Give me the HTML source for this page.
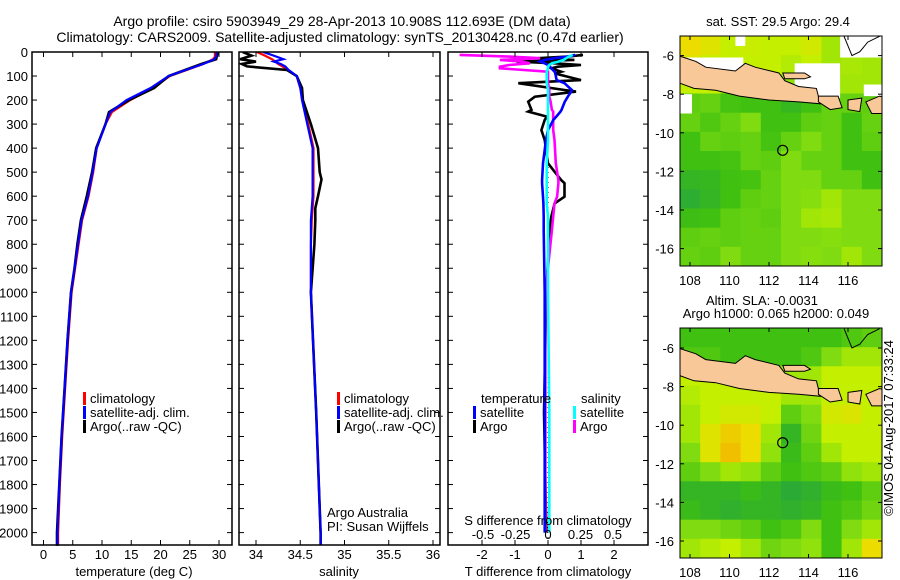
<!DOCTYPE html>
<html><head><meta charset="utf-8">
<style>
html,body{margin:0;padding:0;background:#fff;}
svg{display:block;font-family:"Liberation Sans",sans-serif;}
text{fill:#000;}
</style></head>
<body>
<svg id="fig" width="900" height="580" viewBox="0 0 900 580" xmlns="http://www.w3.org/2000/svg">
<g>
<text x="342" y="26" font-size="14" text-anchor="middle">Argo profile: csiro 5903949_29 28-Apr-2013 10.908S 112.693E (DM data)</text>
<text x="340" y="42" font-size="14" text-anchor="middle">Climatology: CARS2009. Satellite-adjusted climatology: synTS_20130428.nc (0.47d earlier)</text>
</g>
<g id="p1"></g>
<g id="p2"></g>
<g id="p3"></g>
<g id="m1"></g>
<g id="m2"></g>
<text x="0" y="0" font-size="13" transform="translate(893,428) rotate(-90)" text-anchor="middle">©IMOS 04-Aug-2017 07:33:24</text>
</svg>
<script>
// ---- profile data ----
const depthT = [0,20,30,50,75,100,150,200,250,300,400,500,600,700,800,900,1000,1200,1400,1600,1800,2000,2055];
const tempClim = [29.3,29.3,29.0,27.3,24.5,21.6,18.7,14.8,11.7,10.6,9.1,8.5,7.7,6.6,6.0,5.4,4.8,4.2,3.7,3.2,2.8,2.5,2.5];
const tempSat = [29.6,29.5,29.2,27.3,24.3,21.4,18.3,14.2,11.4,10.6,9.1,8.4,7.6,6.5,5.9,5.3,4.7,4.1,3.6,3.1,2.7,2.4,2.4];
const tempArgo = [29.8,29.6,29.5,27.0,24.2,21.4,18.9,14.6,11.2,10.6,9.0,8.3,7.4,6.4,5.8,5.3,4.7,4.1,3.6,3.1,2.7,2.3,2.3];
const depthS = [0,15,30,40,50,60,75,100,150,200,300,400,500,530,600,650,700,800,1000,1500,2000,2055];
const salClim = [34.01,34.1,34.18,34.22,34.25,34.3,34.36,34.46,34.5,34.53,34.59,34.65,34.65,34.65,34.65,34.64,34.63,34.62,34.62,34.68,34.73,34.73];
const salSat = [34.08,34.2,34.31,34.2,34.28,34.33,34.37,34.46,34.5,34.52,34.58,34.64,34.64,34.64,34.64,34.63,34.62,34.62,34.62,34.68,34.73,34.73];
const salArgo = [33.85,33.95,33.82,34.0,33.84,33.9,34.35,34.46,34.52,34.53,34.62,34.7,34.72,34.74,34.7,34.67,34.67,34.66,34.62,34.68,34.73,34.73];
const depthD = [12,19,26,33,40,47,54,61,68,82,89,117,130,158,165,186,207,241,248,269,283,325,366,463,533,546,602,630,685,741,1000,1500,2000];
const tdiffSat = [0.82,0.6,0.2,-0.1,-0.24,-0.1,0.0,0.06,0.1,0.2,0.22,0.26,0.5,0.72,0.7,0.6,0.51,0.41,0.38,0.25,0.16,0.0,-0.06,-0.15,-0.18,-0.18,-0.15,-0.14,-0.13,-0.13,-0.1,-0.1,-0.1];
const tdiffArgo = [1.06,0.6,-0.3,0.8,-0.95,0.2,1.0,0.3,0.1,0.4,0.2,1.0,-0.9,0.5,0.85,-0.4,-0.6,-0.5,-0.6,-0.03,-0.1,-0.2,-0.1,0.0,0.4,0.5,0.5,0.2,0.1,0.05,-0.05,-0.12,-0.05];
const sdiffSat = [0.19,0.16,0.14,0.12,0.08,0.03,0.01,0.0,0.0,-0.01,-0.01,-0.01,-0.01,0.0,0.0,0.0,0.0,0.0,0.0,0.0,0.0,0.0,0.0,-0.01,-0.01,-0.01,-0.01,-0.01,0.0,0.0,0.0,0.01,0.01];
const sdiffArgo = [-0.68,-0.3,-0.06,-0.37,-0.2,-0.14,-0.3,-0.37,-0.37,0.0,0.0,0.0,0.0,0.01,0.01,0.01,0.02,0.03,0.04,0.04,0.04,0.04,0.05,0.06,0.08,0.08,0.07,0.05,0.04,0.03,-0.02,-0.02,-0.02];
const depthTicks = [0,100,200,300,400,500,600,700,800,900,1000,1100,1200,1300,1400,1500,1600,1700,1800,1900,2000];
const tempTicks = [0,5,10,15,20,25,30];
const salTicks = [34,34.5,35,35.5,36];
const tdTicks = [-2,-1,0,1,2];
const sdTicks = ["-0.5","-0.25","0","0.25","0.5"];

// ---- map grids (0 = dark green, 1 = orange) ----
const sstGrid = [
[.85,.8,.7,.72,.7,.7,.75,.6,.6,.62],
[.8,.72,.7,.7,.7,.65,.7,.6,.62,.6],
[.7,.7,.6,.6,.6,.55,.55,.6,.6,.6],
[.4,.42,.32,.3,.3,.22,.3,.42,.42,.4],
[.42,.35,.42,.5,.3,.3,.4,.42,.3,.42],
[.3,.42,.4,.42,.32,.42,.5,.42,.3,.4],
[.3,.3,.32,.42,.4,.5,.42,.42,.3,.3],
[.2,.22,.3,.32,.42,.5,.5,.42,.42,.3],
[.12,.2,.3,.4,.42,.5,.52,.6,.5,.5],
[.28,.3,.4,.42,.4,.5,.6,.62,.5,.5],
[.4,.42,.4,.42,.42,.5,.5,.52,.5,.5],
[.42,.4,.5,.42,.42,.5,.52,.5,.6,.5]];
const slaGrid = [
[.3,.3,.3,.3,.3,.3,.3,.3,.35,.4],
[.35,.35,.3,.3,.3,.3,.35,.5,.6,.6],
[.7,.7,.7,.7,.7,.6,.6,.7,.7,.7],
[.65,.7,.7,.7,.7,.6,.6,.7,.7,.7],
[.6,.7,.75,.75,.7,.4,.5,.75,.78,.7],
[.6,.8,.9,.85,.6,.2,.45,.7,.7,.7],
[.5,.8,.95,.85,.55,.25,.4,.6,.7,.7],
[.4,.5,.6,.55,.4,.3,.35,.4,.55,.6],
[.2,.2,.2,.25,.2,.1,.15,.25,.3,.4],
[.25,.2,.15,.2,.2,.15,.2,.3,.35,.45],
[.5,.5,.45,.4,.3,.35,.5,.3,.5,.6],
[.6,.65,.7,.6,.45,.5,.55,.3,.6,.85]];
const mapLonTicks = [108,110,112,114,116];
const mapLatTicks = [-6,-8,-10,-12,-14,-16];
const argoPos = [112.693,-10.908];

const NS = "http://www.w3.org/2000/svg";
function mk(parent, tag, attrs, txt){
  const e = document.createElementNS(NS, tag);
  for (const k in attrs) e.setAttribute(k, attrs[k]);
  if (txt !== undefined) e.textContent = txt;
  parent.appendChild(e);
  return e;
}
const TOP = 52, BOT = 545;
const yD = d => TOP + d * 0.2403;

function panelFrame(g, x0, x1, name){
  const r = mk(g,'rect',{x:x0,y:TOP,width:x1-x0,height:BOT-TOP,fill:'none',stroke:'#000','stroke-width':1.5});
  
  
  depthTicks.forEach(d => {
    const y = yD(d);
    mk(g,'line',{x1:x0,x2:x0+5,y1:y,y2:y,stroke:'#000'});
    mk(g,'line',{x1:x1-5,x2:x1,y1:y,y2:y,stroke:'#000'});
  });
}
function line(g, xs, ds, xf, color, name, w){
  const pts = xs.map((v,i) => xf(v).toFixed(1) + ',' + yD(ds[i]).toFixed(1)).join(' ');
  const p = mk(g,'polyline',{points:pts,fill:'none',stroke:color,'stroke-width':w||2.2,'stroke-linejoin':'miter'});
  
  
  return p;
}
function xticks(g, ticks, xf, yLab, top, name){
  ticks.forEach(t => {
    const x = xf(+t);
    mk(g,'line',{x1:x,x2:x,y1:BOT-5,y2:BOT,stroke:'#000'});
    if (top) mk(g,'line',{x1:x,x2:x,y1:TOP,y2:TOP+5,stroke:'#000'});
    const tx = mk(g,'text',{x:x,y:yLab,'font-size':13,'text-anchor':'middle'}, String(t));
    
    
  });
}
function legendEntry(g, x, y, color, label){
  const grp = mk(g,'g',{});
  
  
  mk(grp,'rect',{x:x,y:y-11,width:3,height:13,fill:color});
  mk(grp,'text',{x:x+7,y:y,'font-size':13}, label);
}

// Panel 1: temperature
(function(){
  const g = document.getElementById('p1');
  const x0=32, x1=232, xT = t => 43.5 + 5.85*t;
  depthTicks.forEach(d => {
    const t = mk(g,'text',{x:28,y:yD(d)+5,'font-size':13,'text-anchor':'end'}, String(d));
    
    
  });
  line(g, tempClim, depthT, xT, '#f00', 'temp-climatology-line');
  line(g, tempArgo, depthT, xT, '#000', 'temp-argo-line', 2.6);
  line(g, tempSat, depthT, xT, '#00f', 'temp-satellite-line');
  panelFrame(g, x0, x1, 'temperature-panel');
  xticks(g, tempTicks, xT, 559, true, 'temperature');
  const t = mk(g,'text',{x:134,y:576,'font-size':13,'text-anchor':'middle'},'temperature (deg C)');
  
  
  legendEntry(g, 83, 403, '#f00', 'climatology');
  legendEntry(g, 83, 417, '#00f', 'satellite-adj. clim.');
  legendEntry(g, 83, 431, '#000', 'Argo(..raw -QC)');
})();

// Panel 2: salinity
(function(){
  const g = document.getElementById('p2');
  const x0=239, x1=440, xS = s => 256 + 88.5*(s-34);
  const cp = mk(document.getElementById('fig'),'clipPath',{id:'c2'});
  mk(cp,'rect',{x:x0,y:TOP,width:x1-x0,height:BOT-TOP});
  const lg = mk(g,'g',{'clip-path':'url(#c2)'});
  line(lg, salClim, depthS, xS, '#f00', 'sal-climatology-line');
  line(lg, salArgo, depthS, xS, '#000', 'sal-argo-line', 2.6);
  line(lg, salSat, depthS, xS, '#00f', 'sal-satellite-line');
  panelFrame(g, x0, x1, 'salinity-panel');
  xticks(g, salTicks, xS, 559, true, 'salinity');
  const t = mk(g,'text',{x:339,y:576,'font-size':13,'text-anchor':'middle'},'salinity');
  
  
  legendEntry(g, 337, 403, '#f00', 'climatology');
  legendEntry(g, 337, 417, '#00f', 'satellite-adj. clim.');
  legendEntry(g, 337, 431, '#000', 'Argo(..raw -QC)');
  const a = mk(g,'text',{x:327,y:517,'font-size':13},'Argo Australia');
  
  
  const b = mk(g,'text',{x:327,y:531,'font-size':13},'PI: Susan Wijffels');
  
  
})();

// Panel 3: differences
(function(){
  const g = document.getElementById('p3');
  const x0=448, x1=648, xTd = v => 548 + 33*v, xSd = v => 548 + 130*v;
  const cp = mk(document.getElementById('fig'),'clipPath',{id:'c3'});
  mk(cp,'rect',{x:x0,y:TOP,width:x1-x0,height:BOT-TOP});
  const lg = mk(g,'g',{'clip-path':'url(#c3)'});
  const z = mk(lg,'line',{x1:548,x2:548,y1:TOP,y2:BOT,stroke:'#000','stroke-dasharray':'1,4'});
  
  
  line(lg, tdiffArgo, depthD, xTd, '#000', 'tdiff-argo-line', 2.6);
  line(lg, sdiffArgo, depthD, xSd, '#f0f', 'sdiff-argo-line', 2.6);
  line(lg, tdiffSat, depthD, xTd, '#00f', 'tdiff-satellite-line', 2.6);
  line(lg, sdiffSat, depthD, xSd, '#0ff', 'sdiff-satellite-line', 2.6);
  panelFrame(g, x0, x1, 'difference-panel');
  xticks(g, tdTicks, xTd, 559, true, 't-difference');
  sdTicks.forEach(s => {
    const t = mk(g,'text',{x:xSd(+s),y:539,'font-size':13,'text-anchor':'middle'}, s);
    
    
  });
  const t1 = mk(g,'text',{x:548,y:525,'font-size':13,'text-anchor':'middle'},'S difference from climatology');
  
  
  const t2 = mk(g,'text',{x:548,y:576,'font-size':13,'text-anchor':'middle'},'T difference from climatology');
  
  
  const h1 = mk(g,'text',{x:481,y:403,'font-size':13},'temperature');
  
  
  const h2 = mk(g,'text',{x:581,y:403,'font-size':13},'salinity');
  
  
  legendEntry(g, 473, 417, '#00f', 'satellite');
  legendEntry(g, 473, 431, '#000', 'Argo');
  legendEntry(g, 573, 417, '#0ff', 'satellite');
  legendEntry(g, 573, 431, '#f0f', 'Argo');
})();

// colour scale
function cmap(v){
  const stops = [[0,[32,160,72]],[0.3,[64,192,16]],[0.5,[128,220,16]],[0.7,[196,240,0]],[0.85,[236,220,0]],[1,[240,176,0]]];
  for (let i=1;i<stops.length;i++){
    if (v <= stops[i][0]){
      const a=stops[i-1], b=stops[i], f=(v-a[0])/(b[0]-a[0]);
      return 'rgb(' + a[1].map((c,k)=>Math.round(c+(b[1][k]-c)*f)).join(',') + ')';
    }
  }
  return 'rgb(240,176,0)';
}

function drawMap(id, grid, y0, y1, yLat6, hasWhite, name){
  const g = document.getElementById(id);
  const X0=680, X1=882;
  const xL = lon => 690 + (lon-108)*19.75;
  const yL = lat => yLat6 + (-6-lat)*19.3;
  const cpid = 'cl' + id;
  const cp = mk(document.getElementById('fig'),'clipPath',{id:cpid});
  mk(cp,'rect',{x:X0,y:y0,width:X1-X0,height:y1-y0});
  const cg = mk(g,'g',{'clip-path':'url(#'+cpid+')'});
  const rows = grid.length, cols = grid[0].length;
  const cw = (X1-X0)/cols, ch = (y1-y0)/rows;
  grid.forEach((row,r) => row.forEach((v,c) => {
    const cell = mk(cg,'rect',{x:(X0+c*cw).toFixed(1),y:(y0+r*ch).toFixed(1),width:(cw+0.5).toFixed(1),height:(ch+0.5).toFixed(1),fill:cmap(v)});
    
    
  }));
  if (hasWhite){
    [[107.5,-6.1,3.2,0.8],[113.3,-6.4,2.3,1.8],[115.6,-5.0,2.5,1.1],[107.5,-8.0,0.6,1.0],[110.3,-5.0,0.5,0.5],[116.8,-7.5,1.2,0.6]].forEach(w => {
      const wr = mk(cg,'rect',{x:xL(w[0]),y:yL(w[1]),width:w[2]*19.75,height:w[3]*19.3,fill:'#fff'});
      
      
    });
  }
  const lands = [
    [[107.4,-6.0],[108.3,-6.3],[108.8,-6.6],[110.3,-6.8],[110.8,-6.4],[111.3,-6.6],[112.5,-6.9],[112.8,-7.3],[113.5,-7.6],[114.4,-7.7],[114.6,-8.5],[113.5,-8.4],[112,-8.3],[110.5,-8.1],[109.3,-7.8],[108.2,-7.7],[107.4,-7.4]],
    [[112.7,-6.9],[113.8,-6.9],[114.1,-7.1],[113.8,-7.2],[112.8,-7.2]],
    [[114.5,-8.1],[115.5,-8.1],[115.7,-8.7],[115.1,-8.8],[114.5,-8.4]],
    [[116.0,-8.3],[116.7,-8.2],[116.6,-8.9],[116.0,-8.8]],
    [[116.9,-8.4],[117.6,-8.1],[118,-8.2],[118,-9.0],[117.2,-9.0]]
  ];
  lands.forEach(poly => {
    const p = mk(cg,'polygon',{points:poly.map(q=>xL(q[0]).toFixed(1)+','+yL(q[1]).toFixed(1)).join(' '),fill:'#f8c898',stroke:'#000','stroke-width':1});
    
    
  });
  const coast = mk(cg,'polyline',{points:[[115.8,-5],[116.2,-6],[116.6,-5.8],[117,-5.3],[117.6,-5]].map(q=>xL(q[0])+','+yL(q[1])).join(' '),fill:'none',stroke:'#000'});
  
  
  const circ = mk(cg,'circle',{cx:xL(argoPos[0]),cy:yL(argoPos[1]),r:5,fill:'none',stroke:'#000','stroke-width':1.2});
  
  
  const fr = mk(g,'rect',{x:X0,y:y0,width:X1-X0,height:y1-y0,fill:'none',stroke:'#000'});
  
  
  mapLonTicks.forEach(l => {
    const x = xL(l);
    mk(g,'line',{x1:x,x2:x,y1:y0,y2:y0+4,stroke:'#000'});
    mk(g,'line',{x1:x,x2:x,y1:y1-4,y2:y1,stroke:'#000'});
    const t = mk(g,'text',{x:x,y:y1+19,'font-size':13,'text-anchor':'middle'}, String(l));
    
    
  });
  mapLatTicks.forEach(l => {
    const y = yL(l);
    mk(g,'line',{x1:X0,x2:X0+4,y1:y,y2:y,stroke:'#000'});
    mk(g,'line',{x1:X1-4,x2:X1,y1:y,y2:y,stroke:'#000'});
    const t = mk(g,'text',{x:674,y:y+5,'font-size':13,'text-anchor':'end'}, String(l));
    
    
  });
}
drawMap('m1', sstGrid, 36, 266, 55.6, true, 'sst-map');
drawMap('m2', slaGrid, 328, 558, 348, false, 'sla-map');
(function(){
  const f = document.getElementById('fig');
  const a = mk(f,'text',{x:778,y:26,'font-size':13,'text-anchor':'middle'},'sat. SST: 29.5 Argo: 29.4');
  
  
  const b = mk(f,'text',{x:762,y:305,'font-size':13,'text-anchor':'middle'},'Altim. SLA: -0.0031');
  
  
  const c = mk(f,'text',{x:776,y:318,'font-size':13,'text-anchor':'middle'},'Argo h1000: 0.065 h2000: 0.049');
  
  
})();
</script>
</body></html>
